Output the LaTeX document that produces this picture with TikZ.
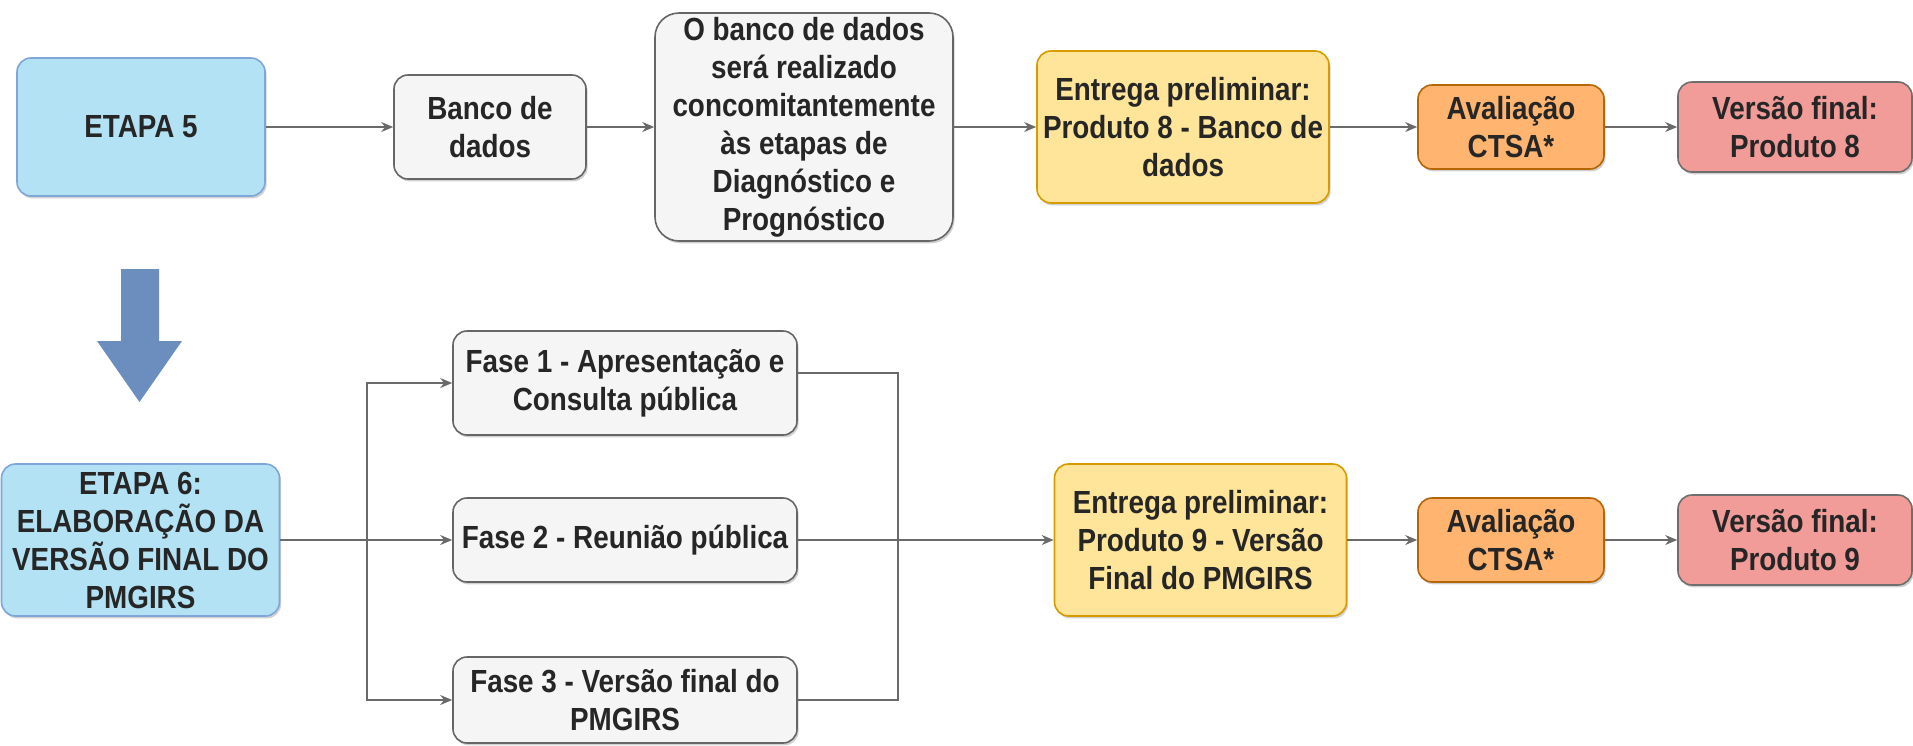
\documentclass[tikz,border=0pt]{standalone}
\usepackage{fontspec}
\setmainfont{Liberation Sans}[FakeStretch=0.87]
\usetikzlibrary{arrows.meta,shadows}
\definecolor{etapafill}{HTML}{B4E2F5}
\definecolor{etapadraw}{HTML}{7EA6D8}
\definecolor{cinzafill}{HTML}{F5F5F5}
\definecolor{cinzadraw}{HTML}{666666}
\definecolor{entregafill}{HTML}{FFE599}
\definecolor{entregadraw}{HTML}{D79B00}
\definecolor{avalfill}{HTML}{FFB570}
\definecolor{avaldraw}{HTML}{B46504}
\definecolor{versaofill}{HTML}{F19C99}
\definecolor{versaodraw}{HTML}{6E6E6E}
\definecolor{setafill}{HTML}{6C8EBF}
\definecolor{linhacor}{HTML}{6A6A6A}
\definecolor{textocor}{HTML}{262626}

\begin{document}
\begin{tikzpicture}[x=0.5pt,y=-0.5pt,
  caixa/.style={draw, rounded corners=7pt, line width=0.8pt, align=center, inner sep=0pt,
    font=\fontsize{16}{19}\selectfont\bfseries, text=textocor,
    drop shadow={shadow xshift=0.8pt, shadow yshift=-1.2pt, fill=black, opacity=0.18}},
  etapa/.style={caixa, fill=etapafill, draw=etapadraw},
  cinza/.style={caixa, fill=cinzafill, draw=cinzadraw},
  entrega/.style={caixa, fill=entregafill, draw=entregadraw},
  aval/.style={caixa, fill=avalfill, draw=avaldraw},
  versao/.style={caixa, fill=versaofill, draw=versaodraw},
  conn/.style={draw=linhacor, line width=0.8pt},
  seta/.style={conn, -{Stealth[length=6pt,width=5pt]}}]
\useasboundingbox (0,0) rectangle (1913,745);

% linha superior
\node[etapa, minimum width=124pt, minimum height=69pt] (etapa5) at (141,127) {ETAPA 5};
\node[cinza, minimum width=96pt, minimum height=52pt] (banco) at (490,127) {Banco de\\dados};
\node[cinza, rounded corners=12pt, minimum width=149pt, minimum height=114pt] (concom) at (804,127)
  {O banco de dados\\será realizado\\concomitantemente\\às etapas de\\Diagnóstico e\\Prognóstico};
\node[entrega, minimum width=146pt, minimum height=76pt] (entrega8) at (1183,127) {Entrega preliminar:\\Produto 8 - Banco de\\dados};
\node[aval, minimum width=93pt, minimum height=42pt] (aval8) at (1511,127) {Avaliação\\CTSA*};
\node[versao, minimum width=117pt, minimum height=45pt] (versao8) at (1795,127) {Versão final:\\Produto 8};

\draw[seta] (etapa5) -- (banco);
\draw[seta] (banco) -- (concom);
\draw[seta] (concom) -- (entrega8);
\draw[seta] (entrega8) -- (aval8);
\draw[seta] (aval8) -- (versao8);

% seta grande
\fill[setafill] (121,269) -- (159,269) -- (159,341) -- (182,341) -- (139.5,402) -- (97,341) -- (121,341) -- cycle;

% linha inferior
\node[etapa, minimum width=139pt, minimum height=76pt] (etapa6) at (140.5,540) {ETAPA 6:\\ELABORAÇÃO DA\\VERSÃO FINAL DO\\PMGIRS};
\node[cinza, minimum width=172pt, minimum height=52pt] (fase1) at (625,383) {Fase 1 - Apresentação e\\Consulta pública};
\node[cinza, minimum width=172pt, minimum height=42pt] (fase2) at (625,540) {Fase 2 - Reunião pública};
\node[cinza, minimum width=172pt, minimum height=43pt] (fase3) at (625,700) {Fase 3 - Versão final do\\PMGIRS};
\node[entrega, minimum width=146pt, minimum height=76pt] (entrega9) at (1200.5,540) {Entrega preliminar:\\Produto 9 - Versão\\Final do PMGIRS};
\node[aval, minimum width=93pt, minimum height=42pt] (aval9) at (1511,540) {Avaliação\\CTSA*};
\node[versao, minimum width=117pt, minimum height=45pt] (versao9) at (1795,540) {Versão final:\\Produto 9};

\coordinate (ramo) at (367,540);
\coordinate (junta) at (898,540);
\draw[seta] (etapa6) -- (fase2);
\draw[seta] (ramo) |- (fase1);
\draw[seta] (ramo) |- (fase3);
\draw[conn] ([yshift=5pt]fase1.east) -| (junta);
\draw[conn] (fase3.east) -| (junta);
\draw[seta] (fase2) -- (entrega9);
\draw[seta] (entrega9) -- (aval9);
\draw[seta] (aval9) -- (versao9);
\end{tikzpicture}
\end{document}
